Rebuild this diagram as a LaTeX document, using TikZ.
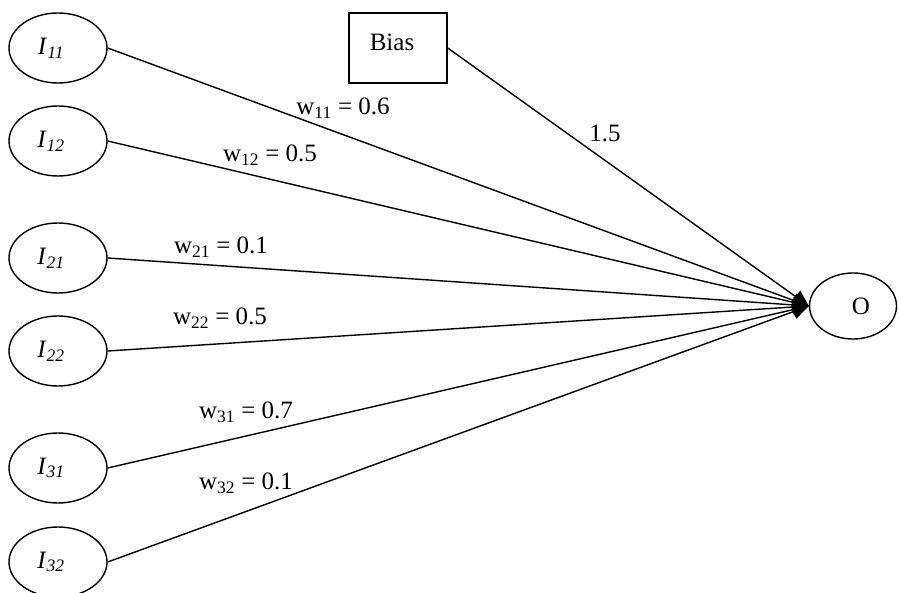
\documentclass[tikz,border=0pt]{standalone}
\usepackage{fontspec}
\setmainfont{Liberation Serif}
\usepackage{tikz}
\usetikzlibrary{shapes, arrows.meta, positioning}

\tikzset{
    inp/.style={draw, ellipse, line width=1.4pt, minimum width=98pt, minimum height=70pt, inner sep=0pt},
    wlink/.style={line width=1.4pt, -{Triangle[length=16pt,width=15pt]}},
    wlabel/.style={inner sep=0pt}
}

\begin{document}
\begin{tikzpicture}[x=1pt, y=-1pt, font=\fontsize{25}{29}\selectfont]
    \useasboundingbox (0,0) rectangle (899,593);

    % output neuron and bias
    \node[inp, minimum width=87pt, minimum height=66pt] (O) at (853,306) {\hspace*{16pt}O};
    \node[draw, line width=1.4pt, minimum width=98pt, minimum height=70pt, inner sep=0pt] (Bias) at (398,48) {\raisebox{12pt}{Bias}\hspace*{12pt}};

    % inputs with their weights
    \foreach \n/\y/\lx/\ly/\v in {11/48/343/108/0.6, 12/141/270/155/0.5, 21/258/221/247/0.1,
                                  22/351/220/318/0.5, 31/468/246/412/0.7, 32/562/246/483/0.1} {
        \node[inp] (I\n) at (58,\y) {\textit{I}\textsubscript{\textit{\n}}\hspace*{14pt}};
        \draw[wlink] (I\n.east) -- (O.west);
        \node[wlabel] (w\n) at (\lx,\ly) {w\textsubscript{\n} = \v};
    }

    \draw[wlink] (Bias.east) -- (O.west);
    \node[wlabel] (wb) at (605,133) {1.5};

\end{tikzpicture}
\end{document}
